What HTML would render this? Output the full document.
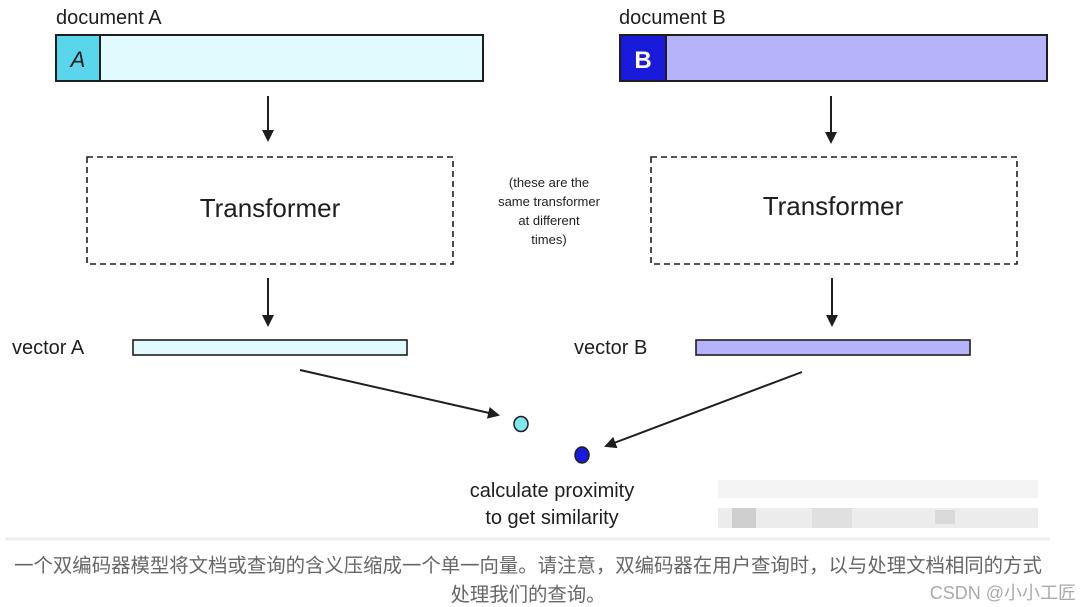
<!DOCTYPE html>
<html><head><meta charset="utf-8"><style>
html,body{margin:0;padding:0;background:#fff;}
body{width:1080px;height:607px;overflow:hidden;position:relative;}
svg{position:absolute;left:0;top:0;}
.cap{position:absolute;left:0;width:1056px;text-align:center;font-family:"Liberation Sans","Noto Sans CJK SC",sans-serif;font-size:19.4px;color:#666;white-space:nowrap;}
</style></head><body>
<svg width="1080" height="607" viewBox="0 0 1080 607">
<defs><marker id="ah" markerWidth="12" markerHeight="12" refX="10" refY="6" orient="auto" markerUnits="userSpaceOnUse"><path d="M0,0 L12,6 L0,12 z" fill="#1e1e1e"/></marker></defs>
<g font-family="Liberation Sans, sans-serif" fill="#1e1e1e">
<text x="56" y="24" font-size="20">document A</text>
<text x="619" y="24" font-size="20">document B</text>
</g>
<rect x="56" y="35" width="427" height="46" fill="#e1fafd" stroke="#1e1e1e" stroke-width="2"/>
<rect x="56" y="35" width="44" height="46" fill="#5ad6ec" stroke="#1e1e1e" stroke-width="2"/>
<text x="78" y="67" font-size="22" font-family="Liberation Sans, sans-serif" font-style="italic" text-anchor="middle" fill="#1e1e1e">A</text>
<rect x="620" y="35" width="427" height="46" fill="#b6b3fb" stroke="#1e1e1e" stroke-width="2"/>
<rect x="620" y="35" width="46" height="46" fill="#1a1adb" stroke="#1e1e1e" stroke-width="2"/>
<text x="643" y="68" font-size="24" font-family="Liberation Sans, sans-serif" font-weight="bold" text-anchor="middle" fill="#fff">B</text>
<g stroke="#1e1e1e" stroke-width="2">
<line x1="268" y1="96" x2="268" y2="140" marker-end="url(#ah)"/>
<line x1="831" y1="96" x2="831" y2="142" marker-end="url(#ah)"/>
<line x1="268" y1="278" x2="268" y2="325" marker-end="url(#ah)"/>
<line x1="832" y1="278" x2="832" y2="325" marker-end="url(#ah)"/>
<line x1="300" y1="370" x2="498" y2="415" marker-end="url(#ah)"/>
<line x1="802" y1="372" x2="606" y2="446" marker-end="url(#ah)"/>
</g>
<rect x="87" y="157" width="366" height="107" fill="none" stroke="#1e1e1e" stroke-width="1.6" stroke-dasharray="6,4"/>
<rect x="651" y="157" width="366" height="107" fill="none" stroke="#1e1e1e" stroke-width="1.6" stroke-dasharray="6,4"/>
<g font-family="Liberation Sans, sans-serif" fill="#1e1e1e" text-anchor="middle">
<text x="270" y="217" font-size="26">Transformer</text>
<text x="833" y="215" font-size="26">Transformer</text>
<text x="549" y="187" font-size="13">(these are the</text>
<text x="549" y="206" font-size="13">same transformer</text>
<text x="549" y="225" font-size="13">at different</text>
<text x="549" y="244" font-size="13">times)</text>
<text x="552" y="497" font-size="20">calculate proximity</text>
<text x="552" y="524" font-size="20">to get similarity</text>
</g>
<g font-family="Liberation Sans, sans-serif" fill="#1e1e1e" font-size="20">
<text x="12" y="354">vector A</text>
<text x="574" y="354">vector B</text>
</g>
<rect x="133" y="340" width="274" height="15" fill="#e1fafd" stroke="#1e1e1e" stroke-width="1.6"/>
<rect x="696" y="340" width="274" height="15" fill="#b6b3fb" stroke="#1e1e1e" stroke-width="1.6"/>
<ellipse cx="521" cy="424" rx="7" ry="7.5" fill="#7ee8ee" stroke="#1e1e1e" stroke-width="1.5"/>
<ellipse cx="582" cy="455" rx="7" ry="8" fill="#1a1adb" stroke="#1e1e1e" stroke-width="1.5"/>
<g>
<rect x="718" y="480" width="320" height="18" fill="#f4f4f4"/>
<rect x="718" y="508" width="320" height="20" fill="#ececec"/>
<rect x="732" y="508" width="24" height="20" fill="#cfcfcf"/>
<rect x="812" y="508" width="40" height="20" fill="#e0e0e0"/>
<rect x="935" y="510" width="20" height="14" fill="#dadada"/>
</g>
<line x1="5" y1="539" x2="1050" y2="539" stroke="#eee" stroke-width="3"/>
</svg>
<div class="cap" style="top:549px;">一个双编码器模型将文档或查询的含义压缩成一个单一向量。请注意，双编码器在用户查询时，以与处理文档相同的方式</div>
<div class="cap" style="top:578px;">处理我们的查询。</div>
<div style="position:absolute;right:4px;top:579px;font-family:'Liberation Sans','Noto Sans CJK SC',sans-serif;font-size:18px;color:#aaa;">CSDN @小小工匠</div>
</body></html>
